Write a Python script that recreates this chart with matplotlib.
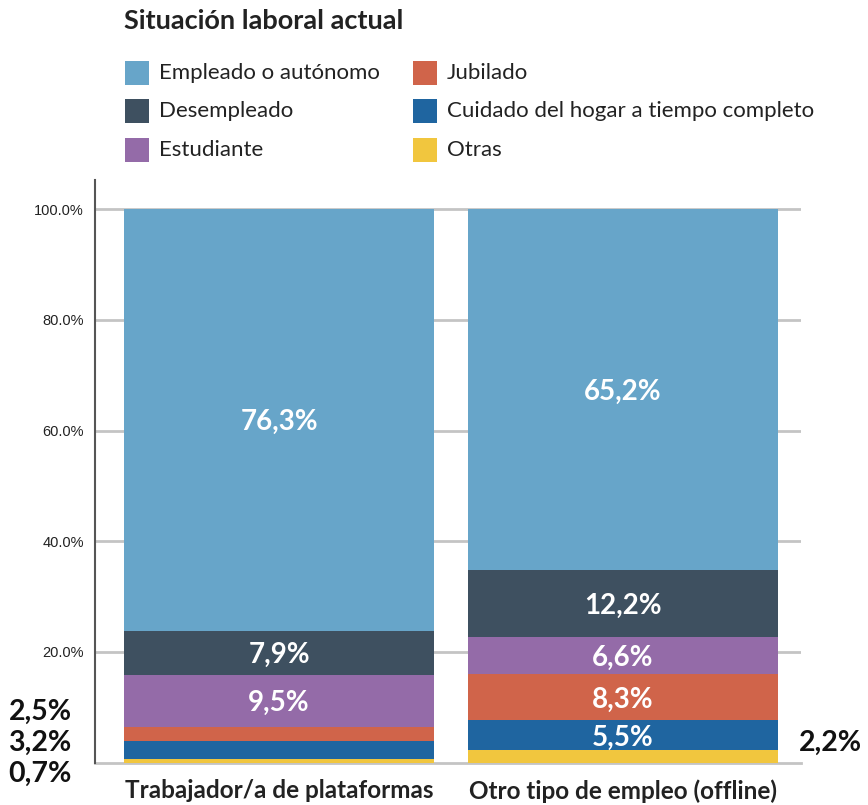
import matplotlib
matplotlib.use("Agg")
import matplotlib.pyplot as plt
from matplotlib.patches import Rectangle
import numpy as np

# Data: shares (%) of current employment status, stacked bottom to top
categories = ["Trabajador/a de plataformas", "Otro tipo de empleo (offline)"]
stack_order = ["Otras", "Cuidado del hogar a tiempo completo", "Jubilado",
               "Estudiante", "Desempleado", "Empleado o autónomo"]
values = {
    "Otras": [0.7, 2.2],
    "Cuidado del hogar a tiempo completo": [3.2, 5.5],
    "Jubilado": [2.5, 8.3],
    "Estudiante": [9.5, 6.6],
    "Desempleado": [7.9, 12.2],
    "Empleado o autónomo": [76.3, 65.2],
}
colors = {
    "Empleado o autónomo": "#67a5c9",
    "Desempleado": "#3e5060",
    "Estudiante": "#946ba8",
    "Jubilado": "#d0644a",
    "Cuidado del hogar a tiempo completo": "#1f65a0",
    "Otras": "#f1c63e",
}
legend_order = ["Empleado o autónomo", "Desempleado", "Estudiante",
                "Jubilado", "Cuidado del hogar a tiempo completo", "Otras"]
yticks = [20, 40, 60, 80, 100]

FONT = ["Lato", "DejaVu Sans"]
W, H = 868, 805
fig = plt.figure(figsize=(W / 100, H / 100), dpi=100)


def px(x, y):
    return x / W, 1 - y / H


ax = fig.add_axes([95 / W, (H - 762.5) / H, (801 - 95) / W, (762.5 - 180) / H])
x = np.arange(len(categories))
bar_w = 0.901
ax.set_xlim(-0.535, 1.517)
ax.set_ylim(0, 105.3)

bottom = np.zeros(len(categories))
small = {i: [] for i in range(len(categories))}
for name in stack_order:
    vals = np.array(values[name])
    ax.bar(x, vals, bottom=bottom, width=bar_w, color=colors[name],
           edgecolor="none", zorder=3)
    for i, v in enumerate(vals):
        label = f"{v:.1f}%".replace(".", ",")
        if v >= 5:
            ax.text(x[i], bottom[i] + v / 2, label, ha="center",
                    va="center_baseline", color="white", fontsize=20,
                    fontweight="bold", family=FONT, zorder=4)
        else:
            small[i].append(label)
    bottom += vals

# Small segments are labelled outside the bars
row_y = [771, 740, 709]
for j, label in enumerate(small[0]):
    fig.text(*px(40, row_y[j]), label, ha="center", va="center_baseline",
             fontsize=20.5, fontweight="bold", family=FONT, color="#111111")
for j, label in enumerate(small[1]):
    fig.text(*px(830, row_y[1]), label, ha="center", va="center_baseline",
             fontsize=20.5, fontweight="bold", family=FONT, color="#111111")

# Axes styling
ax.set_yticks(yticks)
ax.set_yticklabels([f"{t:.1f}%" for t in yticks], family="Liberation Sans",
                   fontsize=10.5, color="#222222")
ax.set_xticks(x)
ax.set_xticklabels(categories, family=FONT, fontsize=17.5, fontweight="bold",
                   color="#222222")
ax.tick_params(axis="y", length=0, pad=8)
ax.tick_params(axis="x", length=0, pad=12)
ax.yaxis.grid(True, color="#c4c4c4", linewidth=2)
ax.set_axisbelow(True)
for s in ["top", "right"]:
    ax.spines[s].set_visible(False)
ax.spines["bottom"].set_color("#c4c4c4")
ax.spines["bottom"].set_linewidth(2)
ax.spines["left"].set_color("#555555")
ax.spines["left"].set_linewidth(1.5)
ax.spines["left"].set_zorder(5)

# Title
fig.text(*px(124, 21), "Situación laboral actual", ha="left", va="center",
         fontsize=19.5, fontweight="bold", family=FONT, color="#222222")

# Legend: two columns of coloured squares
col_x = [125, 413]
row_ly = [73, 111, 150]
sq = 24
for k, name in enumerate(legend_order):
    cx = col_x[k // 3]
    cy = row_ly[k % 3]
    fx, fy = px(cx, cy + sq / 2)
    fig.add_artist(Rectangle((fx, fy), sq / W, sq / H, transform=fig.transFigure,
                             facecolor=colors[name], edgecolor="none"))
    fig.text(*px(cx + sq + 10, cy), name, ha="left", va="center",
             fontsize=16, family=FONT, color="#222222")

fig.savefig("out.png", dpi=100)
